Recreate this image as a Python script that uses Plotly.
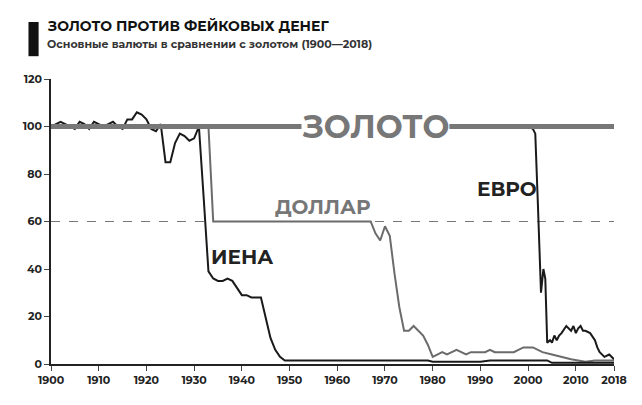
import plotly.graph_objects as go

# data
yen_years = [1900, 1901, 1902, 1903, 1904, 1905, 1906, 1907, 1908, 1909, 1910, 1911, 1912, 1913, 1914, 1915,
             1916, 1917, 1918, 1919, 1920, 1921, 1922, 1923, 1924, 1925, 1926, 1927, 1928, 1929, 1930, 1931,
             1932, 1933, 1934, 1935, 1936, 1937, 1938, 1939, 1940, 1941, 1942, 1944, 1945, 1946, 1947, 1948,
             1949, 1960, 1979, 1980, 1990, 1992, 2004, 2005, 2018]
yen_vals = [100, 101, 102, 101, 100, 99, 102, 101, 99, 102, 101, 100, 101, 102, 100, 99,
            103, 103, 106, 105, 103, 99, 98, 101, 85, 85, 93, 97, 96, 94, 95, 100,
            70, 39, 36, 35, 35, 36, 35, 32, 29, 29, 28, 28, 19, 11, 6, 3,
            1.5, 1.5, 1.5, 1, 1, 1.5, 1.5, 0.5, 0.5]

usd_years = [1900, 1933, 1934, 1967, 1968, 1969, 1970, 1971, 1972, 1973, 1974, 1975, 1976, 1977, 1978, 1979,
             1980, 1982, 1983, 1985, 1987, 1988, 1991, 1992, 1993, 1997, 1999, 2001, 2003, 2005, 2007, 2009,
             2012, 2014, 2018]
usd_vals = [100, 100, 60, 60, 55, 52, 58, 54, 38, 24, 14, 14, 16, 14, 12, 8,
            3, 5, 4, 6, 4, 5, 5, 6, 5, 5, 7, 7, 5, 4, 3, 2,
            1, 1.5, 1.5]

eur_years = [1999, 2000, 2001, 2001.5, 2002, 2002.7, 2003.2, 2003.6, 2004, 2004.6, 2005, 2005.5, 2006, 2006.5,
             2007, 2008, 2009, 2009.5, 2010, 2010.5, 2011, 2011.5, 2012, 2013, 2014, 2014.5, 2015, 2016,
             2017, 2017.5, 2018]
eur_vals = [100, 100, 99, 97, 70, 30, 40, 36, 9, 10, 9, 12, 10, 12, 13, 16, 14, 16, 13, 15, 16, 14,
            14, 13, 10, 7, 5, 3, 4, 3, 2]

gold_left_years = [1900, 1952.5]
gold_right_years = [1983.5, 2018]
gold_val = 100

fig = go.Figure()
fig.add_trace(go.Scatter(x=[1900, 2018], y=[60, 60], mode="lines",
                         line=dict(color="#777", width=1, dash="dash")))
fig.add_trace(go.Scatter(x=usd_years, y=usd_vals, mode="lines", line=dict(color="#6b6b6b", width=2)))
fig.add_trace(go.Scatter(x=yen_years, y=yen_vals, mode="lines", line=dict(color="#1a1a1a", width=2)))
fig.add_trace(go.Scatter(x=eur_years, y=eur_vals, mode="lines", line=dict(color="#1a1a1a", width=2)))
for gx in (gold_left_years, gold_right_years):
    fig.add_trace(go.Scatter(x=gx, y=[gold_val] * len(gx), mode="lines", line=dict(color="#777", width=5)))

fnt = "Montserrat, Lato, DejaVu Sans"
labels = [("ЗОЛОТО", 1968, 100, "#777", 32), ("ДОЛЛАР", 1957, 66, "#777", 20),
          ("ИЕНА", 1940, 45, "#222", 20), ("ЕВРО", 1995.5, 73.5, "#222", 20)]
for txt, x, y, c, s in labels:
    fig.add_annotation(x=x, y=y, text="<b>%s</b>" % txt, showarrow=False,
                       font=dict(size=s, color=c, family=fnt))

fig.add_shape(type="rect", xref="paper", yref="paper", x0=-0.04, x1=-0.022, y0=1.08, y1=1.2,
              fillcolor="#111", line_width=0)
fig.add_annotation(xref="paper", yref="paper", x=-0.01, y=1.225, xanchor="left", yanchor="top",
                   text="<b>ЗОЛОТО ПРОТИВ ФЕЙКОВЫХ ДЕНЕГ</b>", showarrow=False,
                   font=dict(size=14, color="#111", family=fnt))
fig.add_annotation(xref="paper", yref="paper", x=-0.01, y=1.155, xanchor="left", yanchor="top",
                   text="Основные валюты в сравнении с золотом (1900—2018)", showarrow=False,
                   font=dict(size=11, color="#333", family=fnt))

fig.update_layout(
    width=642, height=405, showlegend=False,
    plot_bgcolor="white", paper_bgcolor="white",
    margin=dict(l=43, r=36, t=71, b=49),
    font=dict(family=fnt, color="#222", size=11, weight="bold"),
    xaxis=dict(range=[1900, 2018], tickvals=[1900, 1910, 1920, 1930, 1940, 1950, 1960, 1970, 1980, 1990,
                                             2000, 2010, 2018],
               showgrid=False, zeroline=False, showline=True, linecolor="#222", linewidth=1.5,
               ticks="outside", ticklen=5, tickfont=dict(size=11), automargin=False),
    yaxis=dict(range=[0, 120], tickvals=[0, 20, 40, 60, 80, 100, 120], showgrid=False, zeroline=False,
               showline=True, linecolor="#222", linewidth=1.5, ticks="outside", ticklen=5,
               tickfont=dict(size=11), automargin=False),
)

fig.write_html("out.html")
